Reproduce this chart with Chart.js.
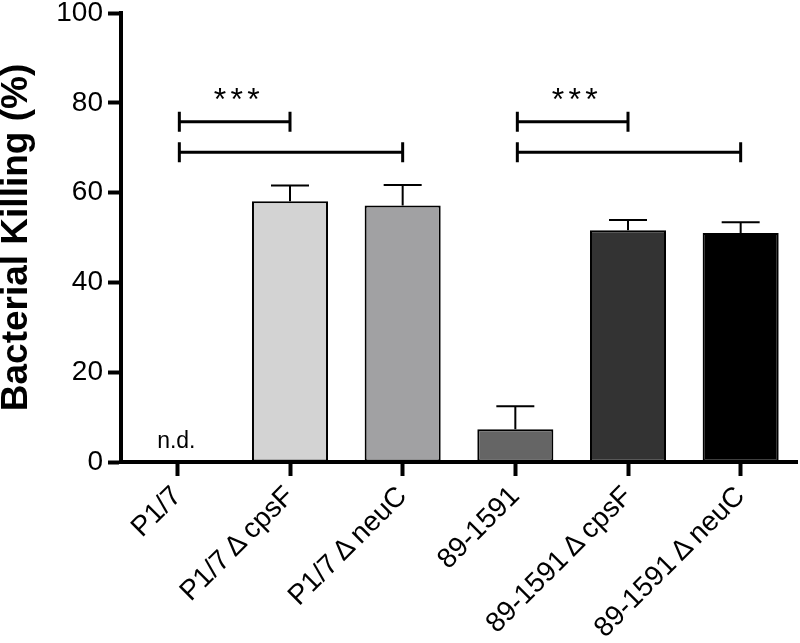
<!DOCTYPE html>
<html><head><meta charset="utf-8">
<script src="https://cdn.jsdelivr.net/npm/chart.js@4"></script>
<style>html,body{margin:0;padding:0;background:#fff}</style>
</head><body>
<canvas id="c" width="800" height="643" style="width:800px;height:643px;display:block"></canvas>
<script>
const categories = ['P1/7', 'P1/7\u2009Δ\u2009cpsF', 'P1/7\u2009Δ\u2009neuC', '89-1591', '89-1591\u2009Δ\u2009cpsF', '89-1591\u2009Δ\u2009neuC'];
const values = [null, 58.1, 57.1, 7.3, 51.6, 51.0];
const errorUpper = [null, 61.6, 61.7, 12.4, 53.9, 53.4];
const barColors = ['#ffffff', '#d3d3d3', '#a1a1a3', '#656565', '#333333', '#000000'];
const yTicks = [0, 20, 40, 60, 80, 100];
const bracketFrom = [0, 0, 3, 3];
const bracketTo = [1, 2, 4, 5];
const bracketY = [75.8, 69.0, 75.8, 69.0];
const bracketLabel = ['***', '', '***', ''];
const missingLabel = 'n.d.';

const FONT = '"Liberation Sans", Arial, sans-serif';

const annot = {
  id: 'annot',
  afterDatasetsDraw(chart) {
    const ctx = chart.ctx;
    const x = chart.scales.x, y = chart.scales.y;
    ctx.save();
    ctx.strokeStyle = '#000';
    ctx.lineWidth = 2;
    values.forEach((v, i) => {
      if (v == null || errorUpper[i] == null) return;
      const cx = x.getPixelForValue(i);
      const yt = y.getPixelForValue(v), yu = y.getPixelForValue(errorUpper[i]);
      ctx.beginPath();
      ctx.moveTo(cx, yt); ctx.lineTo(cx, yu);
      ctx.moveTo(cx - 19, yu); ctx.lineTo(cx + 19, yu);
      ctx.stroke();
    });
    ctx.fillStyle = '#000';
    ctx.font = '23px ' + FONT;
    ctx.textAlign = 'center';
    ctx.textBaseline = 'alphabetic';
    values.forEach((v, i) => {
      if (v != null) return;
      ctx.fillText(missingLabel, x.getPixelForValue(i) - 1, y.getPixelForValue(0) - 14);
    });
    ctx.lineWidth = 3;
    bracketFrom.forEach((f, k) => {
      const x1 = x.getPixelForValue(f) + 2, x2 = x.getPixelForValue(bracketTo[k]);
      const yy = y.getPixelForValue(bracketY[k]);
      ctx.beginPath();
      ctx.moveTo(x1, yy); ctx.lineTo(x2, yy);
      ctx.moveTo(x1, yy - 10); ctx.lineTo(x1, yy + 10);
      ctx.moveTo(x2, yy - 10); ctx.lineTo(x2, yy + 10);
      ctx.stroke();
      if (bracketLabel[k]) {
        ctx.font = '32px ' + FONT;
        const m = ctx.measureText('*');
        const cy = yy - 28;
        const base = cy + (m.actualBoundingBoxAscent - m.actualBoundingBoxDescent) / 2;
        const mid = (x1 + x2) / 2 + 2;
        const n = bracketLabel[k].length;
        for (let s = 0; s < n; s++) {
          ctx.fillText('*', mid + (s - (n - 1) / 2) * 16.7, base);
        }
      }
    });
    ctx.restore();
  }
};

new Chart(document.getElementById('c'), {
  type: 'bar',
  data: {
    labels: categories,
    datasets: [{
      data: values,
      backgroundColor: barColors,
      borderColor: '#000',
      borderWidth: 2,
      borderSkipped: false,
      barPercentage: 0.675,
      categoryPercentage: 1.0
    }]
  },
  options: {
    responsive: false,
    animation: false,
    devicePixelRatio: 1,
    layout: { padding: { top: 13, right: 3, left: 0, bottom: 0 } },
    plugins: { legend: { display: false }, tooltip: { enabled: false } },
    scales: {
      x: {
        offset: true,
        grid: { display: true, drawOnChartArea: false, offset: false, tickLength: 14, tickWidth: 4, tickColor: '#000' },
        border: { display: true, width: 4, color: '#000' },
        ticks: { color: '#000', font: { family: FONT, size: 28 }, maxRotation: 45, minRotation: 45, padding: 4, autoSkip: false },
        afterFit(s) { s.height = 181; s.paddingLeft = 0; s.paddingRight = 0; }
      },
      y: {
        min: 0, max: 100,
        afterBuildTicks(s) { s.ticks = yTicks.map(v => ({ value: v })); },
        grid: { display: true, drawOnChartArea: false, tickLength: 13, tickWidth: 4, tickColor: '#000' },
        border: { display: true, width: 4, color: '#000' },
        ticks: { color: '#000', font: { family: FONT, size: 28 }, padding: 5 },
        title: { display: true, text: 'Bacterial Killing (%)', color: '#000', font: { family: FONT, size: 37, weight: 'bold', lineHeight: 0.8 }, padding: { top: 2, bottom: 0 } },
        afterFit(s) { s.width = 121; s.paddingTop = 0; s.paddingBottom = 0; }
      }
    }
  },
  plugins: [annot]
});
</script>
</body></html>
